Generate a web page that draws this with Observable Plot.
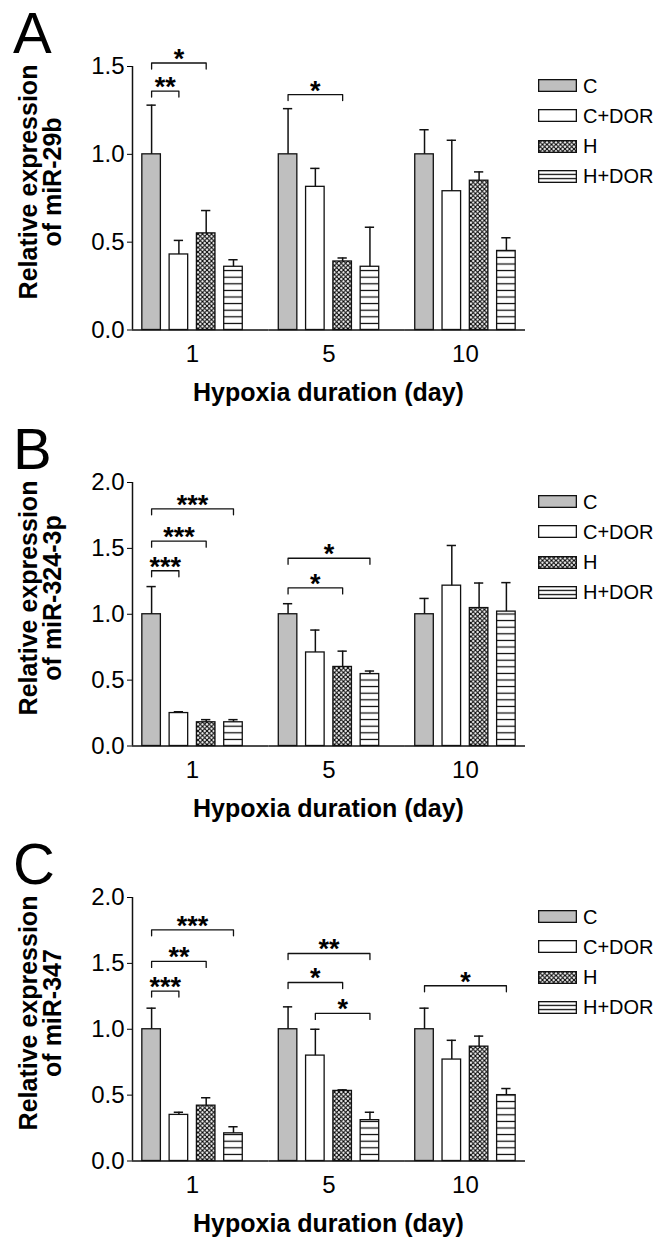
<!DOCTYPE html>
<html>
<head>
<meta charset="utf-8">
<script src="https://cdn.jsdelivr.net/npm/d3@7"></script>
<script src="https://cdn.jsdelivr.net/npm/@observablehq/plot@0.6"></script>
<style>
  html, body { margin: 0; padding: 0; background: #fff; }
  body { width: 664px; height: 1246px; overflow: hidden; font-family: "Liberation Sans", Arial, sans-serif; color: #000; }
  .panel { position: relative; width: 664px; }
  .panel svg.chart { position: absolute; left: 0; top: 0; }
  .letter { position: absolute; left: 13px; top: 3.5px; font-size: 58px; line-height: 1; }
  .ytitle { position: absolute; width: 300px; height: 48px; font-size: 25px; font-weight: bold; line-height: 24px; text-align: center; transform: rotate(-90deg); white-space: nowrap; }
  .xtitle { position: absolute; left: 132px; width: 393px; font-size: 25px; font-weight: bold; line-height: 25px; text-align: center; white-space: nowrap; }
  .legend { position: absolute; left: 538px; font-size: 20px; }
  .legend .item { display: flex; align-items: center; height: 13px; margin-bottom: 17.3px; }
  .legend .item svg { display: block; margin-right: 6px; }
  .legend .item span { line-height: 1; }
</style>
</head>
<body>
<svg width="0" height="0" style="position:absolute;left:0;top:0">
  <defs>
    <pattern id="xhatch" patternUnits="userSpaceOnUse" width="4.5" height="4.5">
      <rect width="4.5" height="4.5" fill="#fff"/>
      <path d="M0,0L4.5,4.5M4.5,0L0,4.5" stroke="#000" stroke-width="1.1"/>
    </pattern>
    <pattern id="hlines" patternUnits="userSpaceOnUse" width="8" height="6.6" y="3.3">
      <rect width="8" height="6.6" fill="#fff"/>
      <line x1="0" x2="8" y1="3.3" y2="3.3" stroke="#000" stroke-width="1.2"/>
    </pattern>
    <pattern id="hlinesLeg" patternUnits="userSpaceOnUse" width="8" height="4.333" y="2.1667">
      <rect width="8" height="4.333" fill="#fff"/>
      <line x1="0" x2="8" y1="2.1667" y2="2.1667" stroke="#000" stroke-width="1.2"/>
    </pattern>
  </defs>
</svg>
<div id="root"></div>
<script>
// ---- data ----
const days = ["1", "5", "10"];
const groups = ["C", "C+DOR", "H", "H+DOR"];
const groupFills = ["#bfbfbf", "#ffffff", "url(#xhatch)", "url(#hlines)"];
const legendFills = ["#bfbfbf", "#ffffff", "url(#xhatch)", "url(#hlinesLeg)"];

// values in day order (1, 5, 10), each with C, C+DOR, H, H+DOR
const mir29bMean = [1.00, 0.43, 0.55, 0.36, 1.00, 0.815, 0.39, 0.36, 1.00, 0.79, 0.85, 0.45];
const mir29bSD   = [0.28, 0.08, 0.13, 0.04, 0.26, 0.105, 0.02, 0.225, 0.14, 0.29, 0.05, 0.075];
const mir324Mean = [1.00, 0.25, 0.18, 0.18, 1.00, 0.71, 0.60, 0.546, 1.00, 1.217, 1.047, 1.02];
const mir324SD   = [0.21, 0.01, 0.02, 0.02, 0.08, 0.17, 0.12, 0.023, 0.12, 0.305, 0.19, 0.22];
const mir347Mean = [1.00, 0.35, 0.42, 0.21, 1.00, 0.80, 0.532, 0.31, 1.00, 0.77, 0.868, 0.50];
const mir347SD   = [0.16, 0.02, 0.06, 0.05, 0.17, 0.20, 0.008, 0.06, 0.16, 0.146, 0.08, 0.05];

// significance brackets: [day, from group, to group, bracket height, label]
const sigA = [["1", "C", "C+DOR", 1.36, "**"], ["1", "C", "H", 1.52, "*"], ["5", "C", "H", 1.34, "*"]];
const sigB = [["1", "C", "C+DOR", 1.33, "***"], ["1", "C", "H", 1.555, "***"], ["1", "C", "H+DOR", 1.80, "***"],
              ["5", "C", "H", 1.20, "*"], ["5", "C", "H+DOR", 1.425, "*"]];
const sigC = [["1", "C", "C+DOR", 1.29, "***"], ["1", "C", "H", 1.515, "**"], ["1", "C", "H+DOR", 1.755, "***"],
              ["5", "C", "H", 1.355, "*"], ["5", "C", "H+DOR", 1.575, "**"], ["5", "C+DOR", "H+DOR", 1.12, "*"],
              ["10", "C", "H+DOR", 1.33, "*"]];

const yTicksA = [0, 0.5, 1.0, 1.5];
const yTicksBC = [0, 0.5, 1.0, 1.5, 2.0];

const xTitle = "Hypoxia duration (day)";
const yTitleLine1 = "Relative expression";

const panels = [
  {letter: "A", yLine2: "of miR-29b", mean: mir29bMean, sd: mir29bSD, sig: sigA, yTicks: yTicksA, height: 416},
  {letter: "B", yLine2: "of miR-324-3p", mean: mir324Mean, sd: mir324SD, sig: sigB, yTicks: yTicksBC, height: 415},
  {letter: "C", yLine2: "of miR-347", mean: mir347Mean, sd: mir347SD, sig: sigC, yTicks: yTicksBC, height: 415}
];

// ---- layout ----
const W = 664, MT = 66, PLOT_H = 263.5, ML = 132, MR = 139;
const xDom = [-0.7, 3.7];
const fxPad = 0.12;
const barHalf = 0.34, capHalf = 0.17;
const ink = "#111";
const font = "'Liberation Sans', Arial, sans-serif";

const root = document.getElementById("root");

for (const p of panels) {
  const rows = [];
  days.forEach((day, i) => groups.forEach((g, j) => rows.push({day, series: g, idx: j, mean: p.mean[i * 4 + j], sd: p.sd[i * 4 + j]})));
  const yMax = p.yTicks[p.yTicks.length - 1];
  const pxPerUnit = PLOT_H / yMax;
  const tickLen = 6 / pxPerUnit;
  const gapUnits = (xDom[1] - xDom[0]) * fxPad / (1 - fxPad);
  const brackets = p.sig.map(([day, from, to, level, label], k) => ({k, day, a: groups.indexOf(from), b: groups.indexOf(to), level, label}));
  const bracketPts = brackets.flatMap(b => [
    {k: b.k, day: b.day, x: b.a, y: b.level - tickLen},
    {k: b.k, day: b.day, x: b.a, y: b.level},
    {k: b.k, day: b.day, x: b.b, y: b.level},
    {k: b.k, day: b.day, x: b.b, y: b.level - tickLen}
  ]);
  const lastDay = days[days.length - 1];

  const chart = Plot.plot({
    width: W,
    height: p.height,
    marginTop: MT,
    marginBottom: p.height - MT - PLOT_H,
    marginLeft: ML,
    marginRight: MR,
    style: {fontFamily: font, fontSize: "24px", color: "#000", background: "transparent", overflow: "visible"},
    fx: {domain: days, paddingInner: fxPad, paddingOuter: 0, round: false, axis: "bottom", tickSize: 0, tickPadding: 15, label: null},
    x: {domain: xDom, axis: null},
    y: {domain: [0, yMax], ticks: p.yTicks, tickFormat: d3.format(".1f"), tickSize: 5, tickPadding: 3, label: null},
    color: {domain: groups, range: groupFills},
    marks: [
      Plot.rectY(rows, {fx: "day", x1: d => d.idx - barHalf, x2: d => d.idx + barHalf, y1: 0, y2: "mean", fill: "series", stroke: ink, strokeWidth: 1.3}),
      Plot.ruleX(rows, {fx: "day", x: "idx", y1: "mean", y2: d => d.mean + d.sd, stroke: ink, strokeWidth: 1.5}),
      Plot.ruleY(rows, {fx: "day", x1: d => d.idx - capHalf, x2: d => d.idx + capHalf, y: d => d.mean + d.sd, stroke: ink, strokeWidth: 1.5}),
      Plot.ruleY(days.map(day => ({day})), {fx: "day", y: 0, x1: xDom[0], x2: d => d.day === lastDay ? xDom[1] : xDom[1] + gapUnits, stroke: ink, strokeWidth: 1.5}),
      Plot.ruleX([{day: days[0]}], {fx: "day", x: xDom[0], y1: 0, y2: yMax, stroke: ink, strokeWidth: 1.5}),
      Plot.line(bracketPts, {fx: "day", x: "x", y: "y", z: "k", stroke: ink, strokeWidth: 1.3}),
      Plot.text(brackets, {fx: "day", x: d => (d.a + d.b) / 2, y: "level", text: "label", fontSize: 27, fontWeight: "bold", lineAnchor: "bottom", dy: 5, fill: "#000"})
    ]
  });
  chart.classList.add("chart");

  const div = document.createElement("div");
  div.className = "panel";
  div.style.height = p.height + "px";
  div.appendChild(chart);

  const letter = document.createElement("div");
  letter.className = "letter";
  letter.textContent = p.letter;
  div.appendChild(letter);

  const yt = document.createElement("div");
  yt.className = "ytitle";
  const cy = MT + PLOT_H / 2 - 16;
  yt.style.left = (39.5 - 150) + "px";
  yt.style.top = (cy - 24) + "px";
  const l1 = document.createElement("div"); l1.textContent = yTitleLine1;
  const l2 = document.createElement("div"); l2.textContent = p.yLine2;
  yt.appendChild(l1); yt.appendChild(l2);
  div.appendChild(yt);

  const xt = document.createElement("div");
  xt.className = "xtitle";
  xt.style.top = (MT + PLOT_H + 50.5) + "px";
  xt.textContent = xTitle;
  div.appendChild(xt);

  const lg = document.createElement("div");
  lg.className = "legend";
  lg.style.top = "79px";
  groups.forEach((g, j) => {
    const item = document.createElement("div");
    item.className = "item";
    const ns = "http://www.w3.org/2000/svg";
    const s = document.createElementNS(ns, "svg");
    s.setAttribute("width", 39); s.setAttribute("height", 13);
    const r = document.createElementNS(ns, "rect");
    r.setAttribute("x", 0.65); r.setAttribute("y", 0.65);
    r.setAttribute("width", 37.7); r.setAttribute("height", 11.7);
    r.setAttribute("fill", legendFills[j]);
    r.setAttribute("stroke", ink); r.setAttribute("stroke-width", 1.3);
    s.appendChild(r);
    const t = document.createElement("span");
    t.textContent = g;
    item.appendChild(s); item.appendChild(t);
    lg.appendChild(item);
  });
  div.appendChild(lg);

  root.appendChild(div);
}
</script>
</body>
</html>
